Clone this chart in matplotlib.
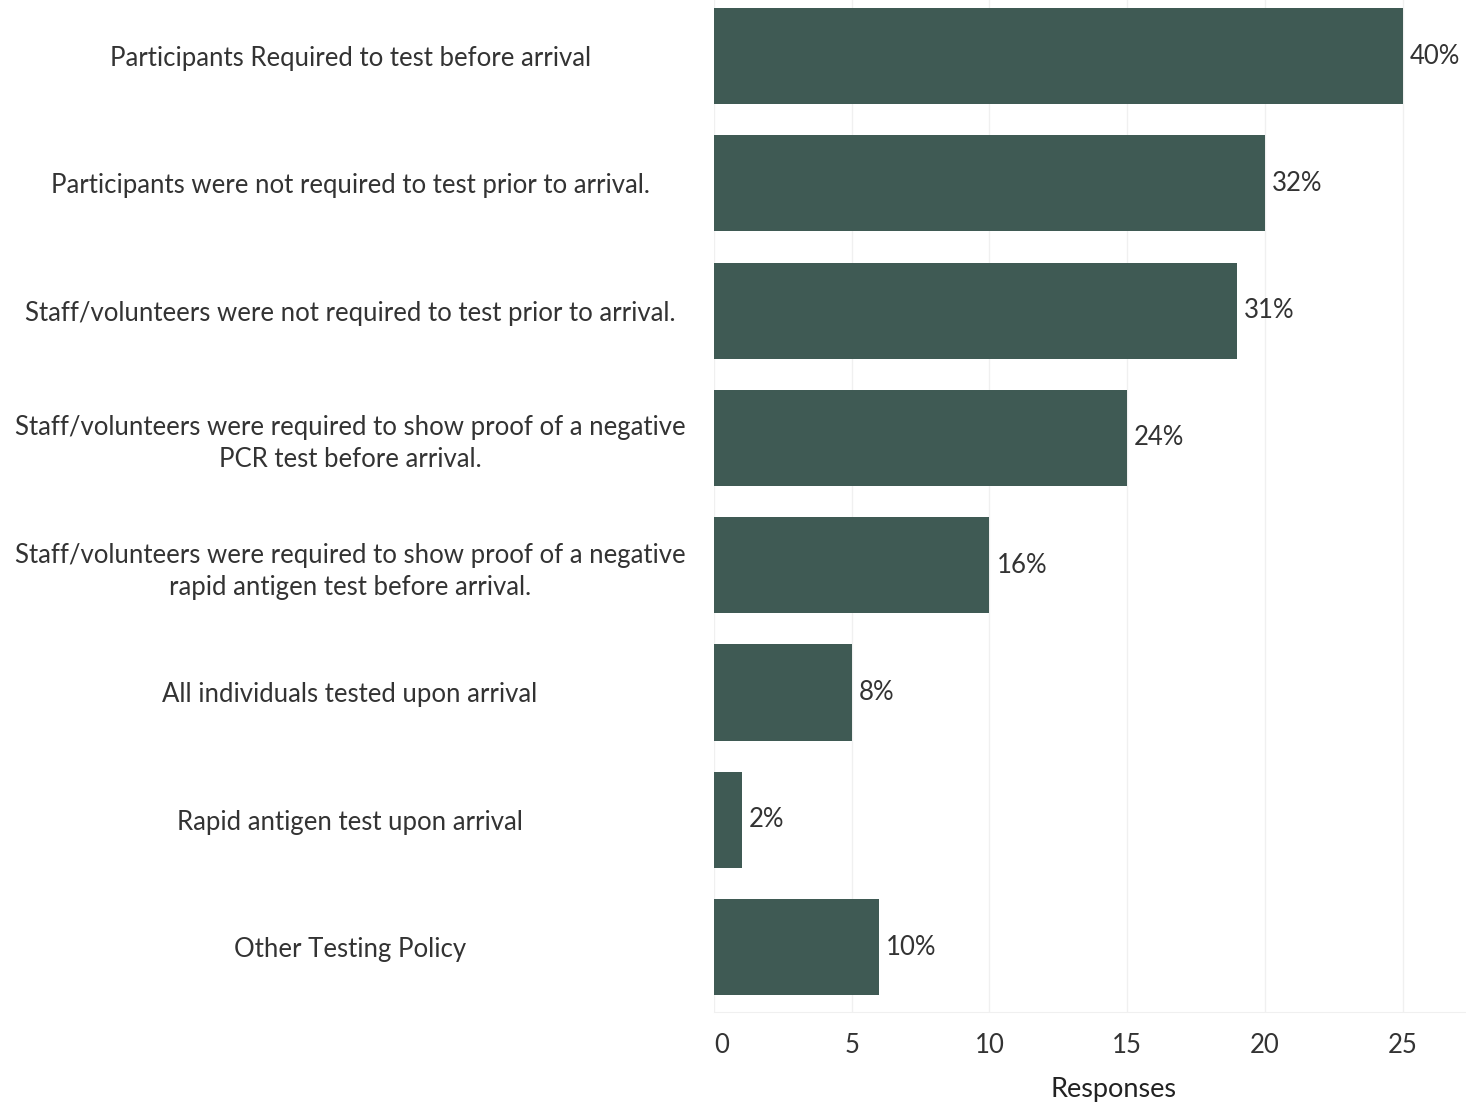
import matplotlib.pyplot as plt

# ------------------------------------------------------------
# Data
# ------------------------------------------------------------
categories = [
    "Participants Required to test before arrival",
    "Participants were not required to test prior to arrival.",
    "Staff/volunteers were not required to test prior to arrival.",
    "Staff/volunteers were required to show proof of a negative\nPCR test before arrival.",
    "Staff/volunteers were required to show proof of a negative\nrapid antigen test before arrival.",
    "All individuals tested upon arrival",
    "Rapid antigen test upon arrival",
    "Other Testing Policy",
]
responses = [25, 20, 19, 15, 10, 5, 1, 6]
pct_labels = ["40%", "32%", "31%", "24%", "16%", "8%", "2%", "10%"]
x_ticks = [0, 5, 10, 15, 20, 25]

BAR_COLOR = "#3f5a54"
TEXT_COLOR = "#333333"
FS = 18.5

plt.rcParams['font.family'] = ['Lato', 'DejaVu Sans']

fig = plt.figure(figsize=(14.66, 11.03), dpi=100)
ax = fig.add_axes([714 / 1466, 1 - 1012 / 1103, 1 - 714 / 1466, 1012 / 1103])

ypos = list(range(len(categories)))
ax.barh(ypos, responses, height=0.755, color=BAR_COLOR, zorder=2)

for y, v, lab in zip(ypos, responses, pct_labels):
    ax.annotate(lab, (v, y), xytext=(5, 0), textcoords='offset points',
                va='center', ha='left', fontsize=FS, color=TEXT_COLOR)

ax.set_xlim(0, 27.3)
ax.set_ylim(7.51, -0.44)

ax.set_yticks(ypos)
ax.set_yticklabels(categories, fontsize=FS, color=TEXT_COLOR,
                   ha='center', multialignment='center', linespacing=1.35)
ax.tick_params(axis='y', length=0, pad=262)

ax.set_xticks(x_ticks)
ax.set_xticklabels([str(t) for t in x_ticks], fontsize=FS, color=TEXT_COLOR)
ax.get_xticklabels()[0].set_horizontalalignment('left')   # 0 sits inside the axis
ax.tick_params(axis='x', length=0, pad=15)
ax.set_xlabel("Responses", fontsize=19.5, color="#222222", labelpad=14)
ax.xaxis.label.set_x(0.531)

ax.grid(axis='x', color='#f0f0f0', linewidth=1, zorder=0)
for side in ['top', 'right', 'left']:
    ax.spines[side].set_visible(False)
ax.spines['bottom'].set_color('#f0f0f0')

fig.savefig("out.png", dpi=100)
